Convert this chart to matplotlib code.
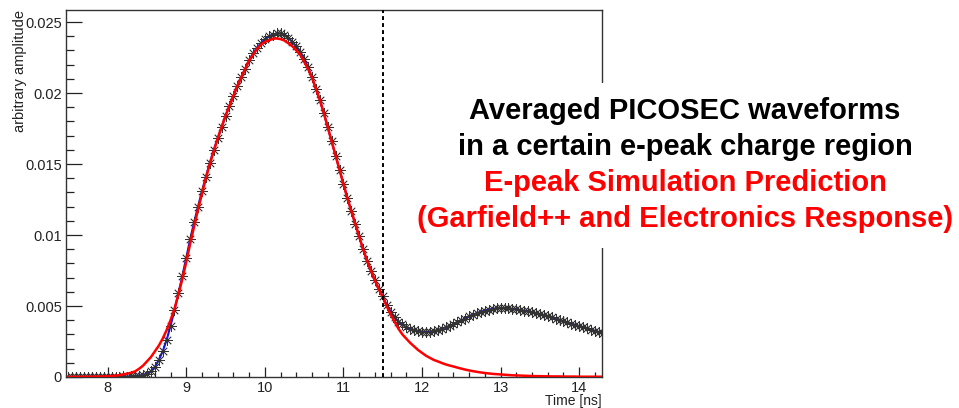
#!/usr/bin/env python3
"""Averaged PICOSEC waveform vs e-peak simulation prediction."""

import numpy as np
import matplotlib
matplotlib.use("Agg")
import matplotlib.pyplot as plt
from matplotlib.patches import Rectangle
from matplotlib.ticker import MultipleLocator, FixedLocator, FixedFormatter

plt.rcParams["font.family"] = ["Liberation Sans", "DejaVu Sans"]

# sampling grid of the averaged waveform (ns)
T_START = 7.50
T_STEP = 0.05

# averaged measured waveform (black stars / blue line), 7.50 ... 14.30 ns
waveform = [
    0.00002, 0.00001, 0.00003, 0.00002, 0.00001, 0.00002, 0.00003, 0.00002, 0.00001, 0.00002,
    0.00002, 0.00003, 0.00002, 0.00003, 0.00004, 0.00003, 0.00005, 0.00007, 0.00010, 0.00015,
    0.00024, 0.0004, 0.0007, 0.0012, 0.0018, 0.0026, 0.0036, 0.0047, 0.0059, 0.0071,
    0.0084, 0.0097, 0.0109, 0.0120, 0.0131, 0.0141, 0.0151, 0.0160, 0.0168, 0.0176,
    0.0184, 0.0191, 0.0198, 0.0205, 0.0211, 0.0217, 0.0223, 0.0228, 0.0232, 0.0235,
    0.0238, 0.0240, 0.02412, 0.0242, 0.0242, 0.02412, 0.0239, 0.0236, 0.0233, 0.0229,
    0.0224, 0.0218, 0.0211, 0.0203, 0.0195, 0.0186, 0.0176, 0.0166, 0.0156, 0.0146,
    0.0136, 0.0126, 0.0117, 0.0108, 0.0099, 0.0090, 0.0082, 0.0075, 0.0068, 0.0062,
    0.0057, 0.0051, 0.0046, 0.0042, 0.0039, 0.0037, 0.0035, 0.0034, 0.0033, 0.00325,
    0.0032, 0.00318, 0.0032, 0.00325, 0.0033, 0.0034, 0.0035, 0.0036, 0.0037, 0.00385,
    0.0040, 0.0041, 0.0043, 0.0044, 0.0045, 0.0046, 0.00468, 0.00475, 0.0048, 0.00483,
    0.00485, 0.00485, 0.00483, 0.0048, 0.00476, 0.00472, 0.00467, 0.00462, 0.00456, 0.0045,
    0.00443, 0.00436, 0.00428, 0.0042, 0.00411, 0.00402, 0.00393, 0.00384, 0.00376, 0.00367,
    0.00358, 0.0035, 0.00342, 0.00333, 0.00325, 0.00316, 0.0031,
]

# e-peak simulation prediction (red line), same grid
prediction = [
    0.00001, 0.00001, 0.00001, 0.00001, 0.00002, 0.00002, 0.00002, 0.00003, 0.00003, 0.00004,
    0.00005, 0.00007, 0.0001, 0.00013, 0.00018, 0.00024, 0.0003, 0.0004, 0.00058, 0.0008,
    0.0011, 0.0014, 0.0018, 0.0022, 0.0027, 0.0033, 0.0040, 0.0048, 0.0058, 0.0069,
    0.0081, 0.0094, 0.0106, 0.0118, 0.0129, 0.0140, 0.0150, 0.0159, 0.0168, 0.0176,
    0.0184, 0.0191, 0.0198, 0.0205, 0.0211, 0.0217, 0.0223, 0.0227, 0.0231, 0.0234,
    0.0236, 0.0237, 0.02382, 0.02385, 0.0238, 0.0237, 0.0235, 0.0233, 0.0230, 0.0227,
    0.0222, 0.0217, 0.0211, 0.0203, 0.0195, 0.0186, 0.0176, 0.0166, 0.0156, 0.0146,
    0.0136, 0.0126, 0.0117, 0.0108, 0.0099, 0.0090, 0.0082, 0.0075, 0.0068, 0.0062,
    0.0056, 0.0050, 0.0044, 0.0039, 0.0034, 0.0030, 0.0027, 0.0024, 0.00215, 0.0019,
    0.0017, 0.0015, 0.00135, 0.0012, 0.0011, 0.00099, 0.00089, 0.00081, 0.00074, 0.00066,
    0.00059, 0.00052, 0.00046, 0.00041, 0.00036, 0.00032, 0.00028, 0.00025, 0.00022, 0.0002,
    0.00018, 0.00016, 0.00014, 0.00012, 0.00011, 0.0001, 0.00009, 0.00008, 0.00007, 0.00006,
    0.00006, 0.00005, 0.00005, 0.00004, 0.00004, 0.00004, 0.00003, 0.00003, 0.00003, 0.00003,
    0.00002, 0.00002, 0.00002, 0.00002, 0.00002, 0.00002, 0.00002,
]

cut_time = 11.5
y_ticks = [0, 0.005, 0.01, 0.015, 0.02, 0.025]
y_tick_labels = ["0", "0.005", "0.01", "0.015", "0.02", "0.025"]
x_ticks = [8, 9, 10, 11, 12, 13, 14]

black_lines = ["Averaged PICOSEC waveforms", "in a certain e-peak charge region"]
red_lines = ["E-peak Simulation Prediction", "(Garfield++ and Electronics Response)"]


def plot():
    W, H = 959, 408
    fig = plt.figure(figsize=(W / 100, H / 100), dpi=100)
    ax = fig.add_axes([66 / W, 1 - 377 / H, (602 - 66) / W, (377 - 10) / H])

    t = T_START + T_STEP * np.arange(len(waveform))
    ax.plot(t, waveform, color="#1010e0", lw=1.5, zorder=2)
    ax.plot(t, waveform, ls="none", marker=(8, 2, 0), ms=7.5, mew=0.55,
            color="#333333", zorder=3)
    ax.plot(t, prediction, color="#ff0000", lw=1.8, zorder=4)
    ax.axvline(cut_time, color="black", ls=(0, (2, 1.6)), lw=1.4, zorder=5)

    ax.set_xlim(7.47, 14.29)
    ax.set_ylim(0, 0.02585)
    ax.xaxis.set_major_locator(FixedLocator(x_ticks))
    ax.xaxis.set_minor_locator(MultipleLocator(0.2))
    ax.yaxis.set_major_locator(FixedLocator(y_ticks))
    ax.yaxis.set_major_formatter(FixedFormatter(y_tick_labels))
    ax.yaxis.set_minor_locator(MultipleLocator(0.001))
    ax.tick_params(axis="both", which="both", direction="in", top=False,
                   right=False, labelsize=10.5, colors="#222222")
    ax.tick_params(axis="x", which="major", length=7.2, width=0.9, pad=3)
    ax.tick_params(axis="x", which="minor", length=3.6, width=0.9)
    ax.tick_params(axis="y", which="major", length=11.5, width=0.9, pad=3)
    ax.tick_params(axis="y", which="minor", length=5.8, width=0.9)
    for s in ax.spines.values():
        s.set_color("#333333")
        s.set_linewidth(1.0)

    fig.text(602 / W, 1 - 401 / H, "Time [ns]", ha="right", va="center",
             fontsize=10, color="#222222")
    fig.text(20 / W, 1 - 10 / H, "arbitrary amplitude", rotation=90,
             ha="center", va="top", fontsize=10.5, color="#222222")

    # white panel behind the annotation, hiding the frame
    fig.add_artist(Rectangle((415 / W, 1 - 248 / H), (W - 415) / W, 165 / H,
                             transform=fig.transFigure, facecolor="white",
                             edgecolor="none", zorder=5))
    xc = 685 / W
    for y, txt in zip([111, 147], black_lines):
        fig.text(xc, 1 - y / H, txt, ha="center", va="center", fontsize=21,
                 fontweight="bold", color="black", zorder=6)
    for y, txt in zip([183, 219], red_lines):
        fig.text(xc, 1 - y / H, txt, ha="center", va="center", fontsize=21,
                 fontweight="bold", color="#ff0000", zorder=6)

    fig.savefig("out.png", dpi=100)


if __name__ == "__main__":
    plot()
